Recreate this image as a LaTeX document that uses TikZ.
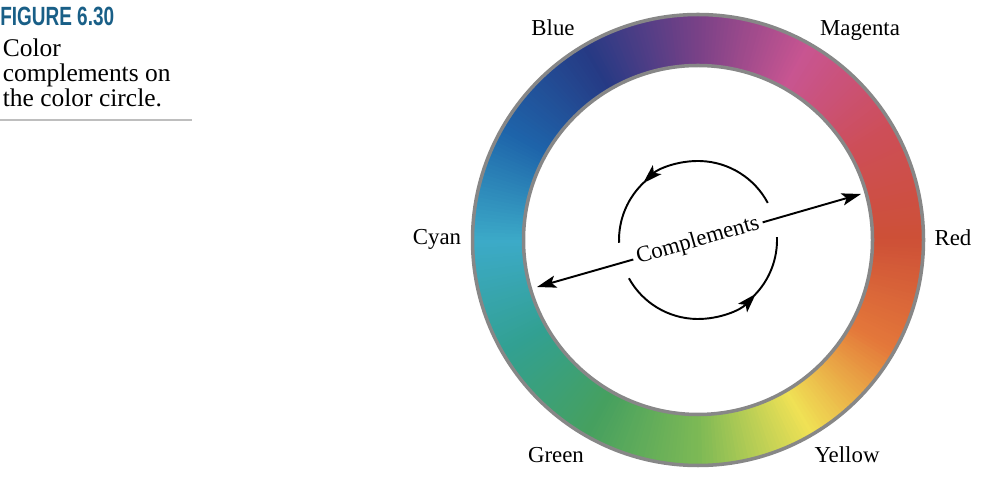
\documentclass[tikz,border=0pt]{standalone}
\usepackage{fontspec}
\setmainfont{Liberation Serif}
\newfontfamily\figfont{Liberation Sans}
\usetikzlibrary{arrows.meta}
\usetikzlibrary{calc}
\definecolor{figblue}{RGB}{25,95,135}
\definecolor{rimgray}{RGB}{135,135,135}
\definecolor{rulegray}{RGB}{190,190,190}
\definecolor{h0}{RGB}{205,80,55}
\definecolor{h1}{RGB}{205,78,88}
\definecolor{h2}{RGB}{200,85,145}
\definecolor{h3}{RGB}{120,65,135}
\definecolor{h4}{RGB}{38,58,132}
\definecolor{h5}{RGB}{30,100,170}
\definecolor{h6}{RGB}{60,170,200}
\definecolor{h7}{RGB}{50,160,145}
\definecolor{h8}{RGB}{70,160,95}
\definecolor{h9}{RGB}{125,185,85}
\definecolor{h10}{RGB}{240,225,85}
\definecolor{h11}{RGB}{228,120,58}

\begin{document}
\begin{tikzpicture}[hue/.style={font=\fontsize{13}{15}\selectfont, inner sep=0pt, anchor=base},
  rim/.style={draw=rimgray, line width=2pt},
  >={Stealth[length=11pt,width=7pt,inset=2.5pt]}]

\useasboundingbox (0,0) rectangle (19.84,9.88);

\node[anchor=base west, inner sep=0pt, text=figblue, font=\figfont\bfseries\fontsize{15}{17}\selectfont, xscale=0.72] (fig) at (0,9.36) {FIGURE 6.30};
\node[anchor=north west, inner sep=0pt, align=left, font=\fontsize{14.5}{14.5}\selectfont] (cap) at (0.05,9.12) {Color\\complements on\\the color circle.};
\draw[rulegray, line width=0.6pt] (0,7.48) -- (3.84,7.48);

\begin{scope}[shift={(13.96,5.08)}]
\foreach \a/\ca/\cb in {0/h0/h1,30/h1/h2,60/h2/h3,90/h3/h4,120/h4/h5,150/h5/h6,180/h6/h7,210/h7/h8,240/h8/h9,270/h9/h10,300/h10/h11,330/h11/h0}{
  \foreach \t in {0,...,29}{
    \pgfmathtruncatemacro{\p}{100-\t*100/30}
    \fill[\ca!\p!\cb] (\a+\t:4.52) arc[start angle=\a+\t, end angle=\a+\t+1.3, radius=4.52]
      -- (\a+\t+1.3:3.48) arc[start angle=\a+\t+1.3, end angle=\a+\t, radius=3.48] -- cycle;
  }
}
\draw[rim] (0,0) circle (4.51);
\draw[rim] (0,0) circle (3.49);

\begin{scope}[line width=1.1pt]
\draw[->] (28:1.58) arc[start angle=28, end angle=134, radius=1.58];
\draw (132:1.58) arc[start angle=132, end angle=182, radius=1.58];
\draw[->] (209:1.58) arc[start angle=209, end angle=317, radius=1.58];
\draw (315:1.58) arc[start angle=315, end angle=362, radius=1.58];
\end{scope}
\end{scope}

\node[hue] (blue) at (11.06,9.16) {Blue};
\node[hue] (magenta) at (17.20,9.16) {Magenta};
\node[hue] (cyan) at (8.74,4.98) {Cyan};
\node[hue] (red) at (19.06,4.96) {Red};
\node[hue] (green) at (11.12,0.62) {Green};
\node[hue] (yellow) at (16.94,0.62) {Yellow};

\node[font=\fontsize{13}{15}\selectfont, rotate=16, inner sep=2pt] (comp) at (13.96,5.06) {Complements};
\coordinate (cyantip) at (10.74,4.14);
\coordinate (redtip) at (17.22,6.00);

\begin{scope}[->, line width=1.1pt]
\draw (comp) -- (cyantip);
\draw (comp) -- (redtip);
\end{scope}
\end{tikzpicture}
\end{document}
